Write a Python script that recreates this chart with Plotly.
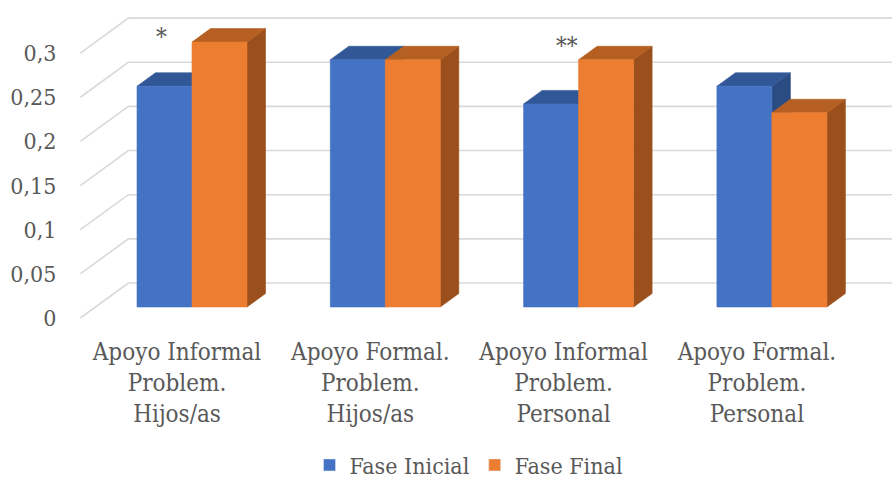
import plotly.graph_objects as go

# ---- data ----
categories = [
    "Apoyo Informal<br>Problem.<br>Hijos/as",
    "Apoyo Formal.<br>Problem.<br>Hijos/as",
    "Apoyo Informal<br>Problem.<br>Personal",
    "Apoyo Formal.<br>Problem.<br>Personal",
]
fase_inicial = [0.25, 0.28, 0.23, 0.25]
fase_final = [0.30, 0.28, 0.28, 0.22]
series_names = ["Fase Inicial", "Fase Final"]
y_tick_vals = [0, 0.05, 0.1, 0.15, 0.2, 0.25, 0.3]
y_tick_text = ["0", "0,05", "0,1", "0,15", "0,2", "0,25", "0,3"]
significance = ["*", "", "**", ""]

# ---- styling ----
FONT = "DejaVu Serif Condensed, DejaVu Serif, serif"
TEXT = "#595959"
GRID = "#D9D9D9"
FRONT = ["#4472C4", "#ED7D31"]
TOP = ["#325797", "#B65F22"]
SIDE = ["#2B4B83", "#9A4F1D"]

W, H = 892, 480
ML, MR, MT, MB = 76, 0, 2, 156
S = 193.3      # pixels per category step
X0_PX = 177    # pixel of category 0 on the front plane
K = 883.0      # pixels per value unit
Y0_PX = 318    # pixel of value 0 on the front plane

def dx(px):
    return px / S

def dy(px):
    return px / K

x_range = [(ML - X0_PX) / S, (W - MR - X0_PX) / S]
y_range = [(Y0_PX - (H - MB)) / K, (Y0_PX - MT) / K]

WALL_DX, WALL_DY = dx(48), dy(35)        # depth of the floor / side wall
BF_DX, BF_DY = dx(15), dy(11)            # front plane of the columns
BD_DX, BD_DY = dx(18.5), dy(13.5)        # depth of each column
BAR_W = dx(55)

fig = go.Figure()

# walls: oblique gridlines (side wall diagonal + back wall horizontal)
for v in y_tick_vals:
    fig.add_trace(go.Scatter(
        x=[-0.5, -0.5 + WALL_DX, x_range[1] + 1],
        y=[v, v + WALL_DY, v + WALL_DY],
        mode="lines", line=dict(color=GRID, width=1.6),
        hoverinfo="skip", showlegend=False,
    ))

def poly(xs, ys, color):
    fig.add_trace(go.Scatter(
        x=xs + [xs[0]], y=ys + [ys[0]], mode="lines", fill="toself",
        fillcolor=color, line=dict(color=color, width=0.6),
        hoverinfo="skip", showlegend=False,
    ))

values = [fase_inicial, fase_final]
for i in range(len(categories)):
    for s in range(2):
        v = values[s][i]
        x0 = i + BF_DX + (s - 1) * BAR_W
        x1 = x0 + BAR_W
        b = BF_DY
        t = BF_DY + v
        # side face
        poly([x1, x1 + BD_DX, x1 + BD_DX, x1],
             [b, b + BD_DY, t + BD_DY, t], SIDE[s])
        # top face
        poly([x0, x1, x1 + BD_DX, x0 + BD_DX],
             [t, t, t + BD_DY, t + BD_DY], TOP[s])
        # front face
        poly([x0, x1, x1, x0], [b, b, t, t], FRONT[s])

# legend entries
for s in range(2):
    fig.add_trace(go.Bar(x=[None], y=[None], name=series_names[s],
                         marker_color=FRONT[s]))

# significance markers
sig_pos = {0: (-0.078, 0.3187), 2: (0.018, 0.3085)}
for i, lab in enumerate(significance):
    if lab:
        ox, oy = sig_pos[i]
        fig.add_annotation(x=i + ox, y=oy, text=lab, showarrow=False,
                           font=dict(family=FONT, size=24, color=TEXT),
                           xref="x", yref="y")

fig.update_layout(
    width=W, height=H,
    margin=dict(l=ML, r=MR, t=MT, b=MB, autoexpand=False),
    paper_bgcolor="white", plot_bgcolor="white",
    font=dict(family=FONT, size=23, color=TEXT),
    showlegend=True,
    legend=dict(orientation="h", x=(469 - ML) / (W - ML - MR), xanchor="center",
                y=-(465 - (H - MB)) / (H - MB - MT), yanchor="middle",
                font=dict(family=FONT, size=23, color=TEXT),
                bgcolor="rgba(0,0,0,0)"),
    xaxis=dict(range=x_range, tickvals=list(range(len(categories))),
               ticktext=categories, showgrid=False, zeroline=False,
               showline=False, ticks="outside", ticklen=6,
               tickfont=dict(family=FONT, size=24, color=TEXT),
               tickcolor="rgba(0,0,0,0)", fixedrange=True),
    yaxis=dict(range=y_range, tickvals=y_tick_vals, ticktext=y_tick_text,
               showgrid=False, zeroline=False, showline=False,
               tickfont=dict(family=FONT, size=23, color=TEXT),
               ticks="outside", ticklen=14, tickcolor="rgba(0,0,0,0)",
               fixedrange=True),
)

fig.write_html("out.html")
